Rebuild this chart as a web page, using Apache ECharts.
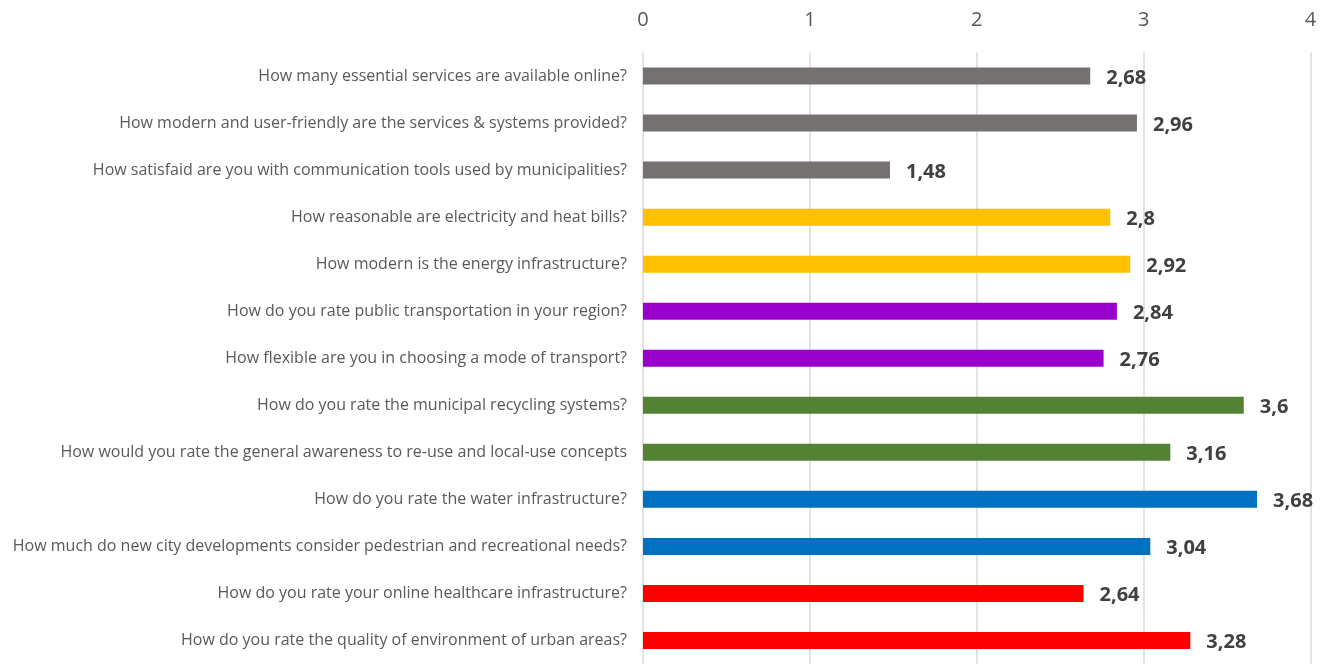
<!DOCTYPE html>
<html><head><meta charset="utf-8">
<script src="https://cdn.jsdelivr.net/npm/echarts@6/dist/echarts.min.js"></script>
<style>html,body{margin:0;padding:0;background:#fff}#c{width:1330px;height:664px}</style>
</head><body><div id="c"></div>
<script>
var categories = [
  "How many essential services are available online?",
  "How modern and user-friendly are the services & systems provided?",
  "How satisfaid are you with communication tools used by municipalities?",
  "How reasonable are electricity and heat bills?",
  "How modern is the energy infrastructure?",
  "How do you rate public transportation in your region?",
  "How flexible are you in choosing a mode of transport?",
  "How do you rate the municipal recycling systems?",
  "How would you rate the general awareness to re-use and local-use concepts",
  "How do you rate the water infrastructure?",
  "How much do new city developments consider pedestrian and recreational needs?",
  "How do you rate your online healthcare infrastructure?",
  "How do you rate the quality of environment of urban areas?"
];
var values = [2.68, 2.96, 1.48, 2.8, 2.92, 2.84, 2.76, 3.6, 3.16, 3.68, 3.04, 2.64, 3.28];
var groups = ["digital","digital","digital","energy","energy","mobility","mobility","waste","waste","water","water","health","health"];
var xTicks = [0, 1, 2, 3, 4];

var groupColors = {digital:"#767171", energy:"#FFC000", mobility:"#9900CC", waste:"#548235", water:"#0070C0", health:"#FF0000"};

var chart = echarts.init(document.getElementById('c'));
chart.setOption({
  animation: false,
  grid: {left: 643, right: 19.5, top: 52.5, height: 614.25, containLabel: false},
  xAxis: {
    type: 'value', position: 'top', min: xTicks[0], max: xTicks[xTicks.length-1], interval: 1,
    axisLine: {show: false}, axisTick: {show: false},
    axisLabel: {fontFamily: 'Open Sans', fontSize: 20, color: '#595959', margin: 22},
    splitLine: {show: true, lineStyle: {color: '#D9D9D9', width: 1.5}}
  },
  yAxis: {
    type: 'category', inverse: true, data: categories,
    axisLine: {show: false}, axisTick: {show: false},
    axisLabel: {fontFamily: 'Open Sans', fontSize: 16, color: '#595959', margin: 16}
  },
  series: [{
    type: 'bar', barWidth: 17,
    data: values.map(function(v, i){ return {value: v, itemStyle: {color: groupColors[groups[i]]}}; }),
    label: {
      show: true, position: 'right', distance: 16, offset: [0, 2],
      fontFamily: 'Open Sans', fontSize: 20, fontWeight: 'bold', color: '#404040',
      formatter: function(p){ return String(p.value).replace('.', ','); }
    }
  }]
});
</script></body></html>
